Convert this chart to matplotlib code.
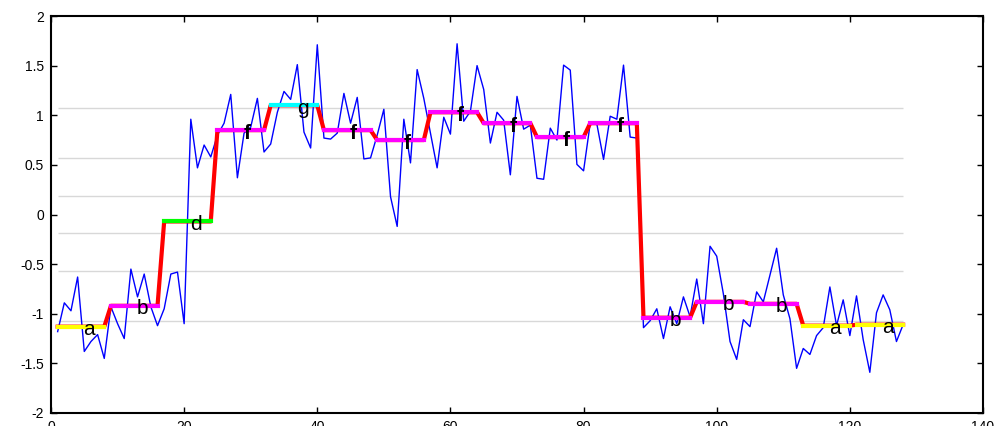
import numpy as np
import matplotlib.pyplot as plt

plt.rcParams['font.family'] = ['Liberation Sans', 'DejaVu Sans']
plt.rcParams['axes.unicode_minus'] = False

# noisy observations, samples 1..128
obs = [-1.18, -0.89, -0.97, -0.63, -1.38, -1.28, -1.21, -1.45, -0.93, -1.10,
       -1.25, -0.55, -0.83, -0.60, -0.93, -1.12, -0.95, -0.60, -0.58, -1.10,
       0.96, 0.47, 0.70, 0.58, 0.80, 0.92, 1.21, 0.37, 0.82, 0.88,
       1.17, 0.63, 0.71, 1.03, 1.24, 1.16, 1.51, 0.83, 0.67, 1.71,
       0.77, 0.76, 0.82, 1.22, 0.92, 1.18, 0.56, 0.57, 0.80, 1.06,
       0.18, -0.12, 0.96, 0.52, 1.46, 1.17, 0.82, 0.47, 0.98, 0.81,
       1.72, 0.94, 1.04, 1.50, 1.26, 0.72, 1.03, 0.95, 0.40, 1.19,
       0.86, 0.90, 0.365, 0.355, 0.87, 0.75, 1.505, 1.455, 0.505, 0.44,
       0.92, 0.91, 0.555, 0.99, 0.96, 1.505, 0.78, 0.77, -1.14, -1.07,
       -0.95, -1.25, -0.93, -1.10, -0.83, -1.03, -0.65, -1.10, -0.32, -0.42,
       -0.80, -1.28, -1.46, -1.06, -1.13, -0.78, -0.88, -0.61, -0.34, -0.81,
       -1.05, -1.55, -1.35, -1.41, -1.22, -1.14, -0.73, -1.12, -0.86, -1.22,
       -0.82, -1.26, -1.59, -0.99, -0.81, -0.96, -1.28, -1.11]

# segment levels (8 samples each) and their class labels
seg_level = [-1.13, -0.92, -0.07, 0.85, 1.10, 0.85, 0.75, 1.03,
             0.92, 0.78, 0.92, -1.04, -0.88, -0.90, -1.12, -1.11]
seg_label = ['a', 'b', 'd', 'f', 'g', 'f', 'f', 'f',
             'f', 'f', 'f', 'b', 'b', 'b', 'a', 'a']
label_color = {'a': '#ffff00', 'b': '#ff00ff', 'd': '#00ff00',
               'f': '#ff00ff', 'g': '#00ffff'}

# class boundary levels (light lines)
bounds = [1.07, 0.57, 0.19, -0.19, -0.57, -1.07]

seg_len = 8
x = np.arange(1, len(obs) + 1)
path = np.repeat(seg_level, seg_len)

fig = plt.figure(figsize=(9.98, 4.26), dpi=100)
ax = fig.add_axes([51/998, 13/426, 932/998, 397/426])

ax.hlines(bounds, 1, 128, colors='#d8d8d8', linewidth=1, zorder=1)
ax.plot(x, obs, color='#0000ff', linewidth=1, zorder=2)
ax.plot(x, path, color='#ff0000', linewidth=3, zorder=3)

for i, (lev, lab) in enumerate(zip(seg_level, seg_label)):
    xs = x[i*seg_len:(i+1)*seg_len]
    ax.plot(xs, [lev]*len(xs), color=label_color[lab], linewidth=3, zorder=4)
    ax.text(xs[0] + 3.9, lev - 0.01, lab, fontsize=15, ha='left', va='center_baseline',
            fontweight='bold' if lab == 'f' else 'normal', zorder=5)

ax.set_xlim(0, 140)
ax.set_ylim(-2, 2)
ax.set_xticks(np.arange(0, 141, 20))
ax.set_yticks(np.arange(-2, 2.01, 0.5))
ax.set_yticklabels(['-2', '-1.5', '-1', '-0.5', '0', '0.5', '1', '1.5', '2'])
ax.tick_params(direction='in', top=True, right=True, length=4, width=1,
               labelsize=10, pad=5)
for s in ax.spines.values():
    s.set_linewidth(1.5)

fig.savefig('out.png', dpi=100)
